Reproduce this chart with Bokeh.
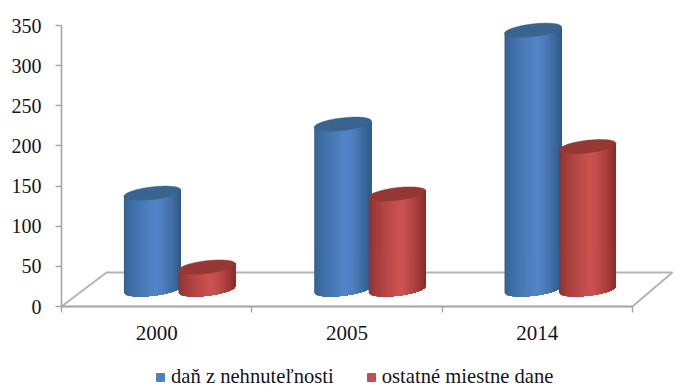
import numpy as np
from bokeh.embed import file_html
from bokeh.resources import INLINE
from bokeh.plotting import figure
from bokeh.models import FixedTicker, Legend, LegendItem

categories = ["2000", "2005", "2014"]
series_names = ["daň z nehnuteľnosti", "ostatné miestne dane"]
dan_z_nehnutelnosti = [120, 206, 323]
ostatne_miestne_dane = [28, 119, 178]
y_ticks = [0, 50, 100, 150, 200, 250, 300, 350]

W, H = 675, 388
AX_L, AX_B = 61, 306               # page position of the data origin
PX_X = 190.3                       # pixels per category
PX_Y = 281.0 / 350.0               # pixels per value unit

p = figure(width=W, height=H, output_backend="svg", toolbar_location=None,
           x_range=(-AX_L / PX_X, (W - AX_L) / PX_X),
           y_range=(-(H - AX_B) / PX_Y, AX_B / PX_Y),
           min_border_left=0, min_border_right=0, min_border_top=0,
           min_border_bottom=0, outline_line_color=None,
           background_fill_color="white", border_fill_color="white")
p.grid.visible = False

AXIS = "#a6a6a6"
TEXT = "#14141e"
for ax in (p.xaxis[0], p.yaxis[0]):
    ax.fixed_location = 0
    ax.axis_line_color = AXIS
    ax.axis_line_width = 1.6
    ax.major_tick_line_color = AXIS
    ax.major_tick_line_width = 1.4
    ax.minor_tick_line_color = AXIS
    ax.minor_tick_line_width = 1.4
    ax.major_label_text_font = "Liberation Serif"
    ax.major_label_text_color = TEXT

ya = p.yaxis[0]
ya.bounds = (0, 350)
ya.ticker = FixedTicker(ticks=y_ticks)
ya.major_tick_in = 0
ya.major_tick_out = 6
ya.major_label_standoff = 14
ya.major_label_text_font_size = "20px"

xa = p.xaxis[0]
xa.bounds = (0, 3)
xa.ticker = FixedTicker(ticks=[0.5, 1.5, 2.5], minor_ticks=[0, 1, 2, 3])
xa.major_label_overrides = {i + 0.5: c for i, c in enumerate(categories)}
xa.major_tick_in = 0
xa.major_tick_out = 0
xa.minor_tick_in = 0
xa.minor_tick_out = 6
xa.major_label_standoff = 13
xa.major_label_text_font_size = "21px"

# floor of the 3D box
dx = 45 / PX_X
dx2 = 40 / PX_X
dy = 34 / PX_Y
p.patch([0, dx, 3 + dx2, 3], [0, dy, dy, 0], fill_color="white",
        line_color="#b4b4b4", line_width=2, level="underlay")


def lerp(c1, c2, t):
    return tuple(int(round(a + (b - a) * t)) for a, b in zip(c1, c2))


def cylinder(center, value, edge_l, peak, edge_r, top):
    a = 28.5 / PX_X
    tilt = 3.2 / PX_Y
    b = 6.3 / PX_Y
    base = dy / 2
    n = 40
    edges = np.linspace(-1, 1, n + 1)
    xs, ys, cols = [], [], []
    for i in range(n):
        us = edges[i:]
        lower = base + tilt * us - b * np.sqrt(np.clip(1 - us ** 2, 0, 1))
        upper = base + value + tilt * us
        xs.append(list(center + a * us) + list(center + a * us[::-1]))
        ys.append(list(lower) + list(upper[::-1]))
        m = (edges[i] + edges[i + 1]) / 2
        if m < 0.12:
            c = lerp(edge_l, peak, ((m + 1) / 1.12) ** 0.7)
        else:
            c = lerp(peak, edge_r, ((m - 0.12) / 0.88) ** 1.4)
        cols.append("#%02x%02x%02x" % c)
    p.patches(xs, ys, fill_color=cols, line_color=None)
    t = np.linspace(0, 2 * np.pi, 80)
    p.patch(center + a * np.cos(t),
            base + value + tilt * np.cos(t) + b * np.sin(t),
            fill_color=top, line_color=top, line_width=0.5)


offset = 27.25 / PX_X
depth_shift = 23 / PX_X
BLUE = ((0x33, 0x60, 0x90), (0x52, 0x85, 0xc8), (0x30, 0x58, 0x84), "#38648f")
RED = ((0x8c, 0x30, 0x2e), (0xcc, 0x52, 0x50), (0x86, 0x2c, 0x2a), "#953735")
for i in range(len(categories)):
    c = i + 0.5 + depth_shift
    cylinder(c - offset, dan_z_nehnutelnosti[i], *BLUE)
    cylinder(c + offset, ostatne_miestne_dane[i], *RED)

# legend keys: one out-of-view quad per series supplies the key's colour
far = 1000
r1 = p.quad(left=[far], right=[far + 1], top=[far + 1], bottom=[far],
            fill_color="#4f81bd", line_color="#4f81bd")
r2 = p.quad(left=[far], right=[far + 1], top=[far + 1], bottom=[far],
            fill_color="#c0504d", line_color="#c0504d")
legend = Legend(items=[LegendItem(label=series_names[0], renderers=[r1]),
                       LegendItem(label=series_names[1], renderers=[r2])],
                orientation="horizontal", location=(155, 0),
                background_fill_alpha=0, border_line_color=None,
                glyph_width=10, glyph_height=10, label_standoff=6, spacing=32,
                padding=0, margin=0, label_text_font="Liberation Serif",
                label_text_font_size="20.6px", label_text_color=TEXT)
p.add_layout(legend)

open("out.html", "w").write(file_html(p, INLINE))
